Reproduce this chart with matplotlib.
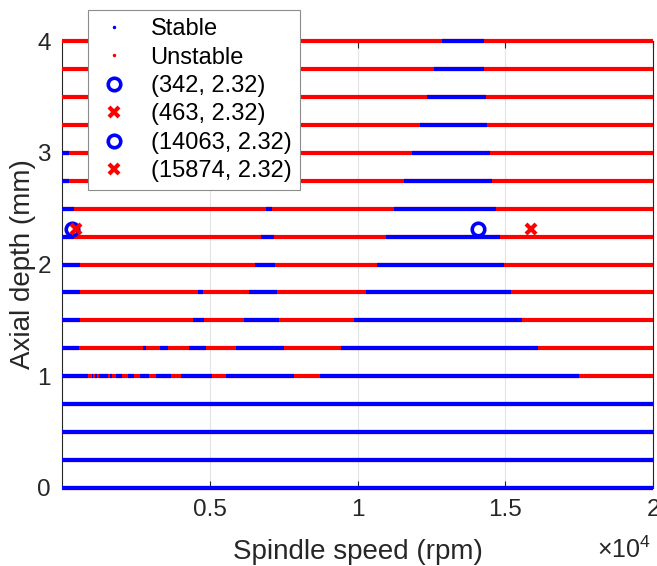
import matplotlib
matplotlib.use("Agg")
import matplotlib.pyplot as plt
from matplotlib.lines import Line2D

plt.rcParams['font.family'] = ['Liberation Sans', 'DejaVu Sans']
plt.rcParams['mathtext.fontset'] = 'custom'
plt.rcParams['mathtext.rm'] = 'Liberation Sans'

# ---- data ----
speed_min, speed_max = 0, 20000
depths = [0.0, 0.25, 0.5, 0.75, 1.0, 1.25, 1.5, 1.75, 2.0, 2.25, 2.5, 2.75, 3.0, 3.25, 3.5, 3.75, 4.0]

# stable spindle-speed intervals (rpm) for each axial depth; the rest is unstable
stable_0_00 = [(0, 20000)]
stable_0_25 = [(0, 20000)]
stable_0_50 = [(0, 20000)]
stable_0_75 = [(0, 20000)]
stable_1_00 = [(0, 880), (1000, 1060), (1120, 1180), (1250, 1540), (1630, 1700), (1830, 2040),
               (2230, 2440), (2630, 2950), (3180, 3700), (4020, 5070), (5550, 7860), (8740, 17510)]
stable_1_25 = [(0, 580), (2730, 2850), (3330, 3590), (4290, 4860), (5890, 7520), (9440, 16100)]
stable_1_50 = [(0, 600), (4450, 4810), (6160, 7360), (9880, 15550)]
stable_1_75 = [(0, 600), (4590, 4760), (6330, 7260), (10290, 15210)]
stable_2_00 = [(0, 600), (6540, 7220), (10650, 14960)]
stable_2_25 = [(0, 410), (6750, 7160), (10950, 14830)]
stable_2_50 = [(0, 410), (6900, 7110), (11240, 14680)]
stable_2_75 = [(0, 220), (11560, 14550)]
stable_3_00 = [(0, 220), (11850, 14480)]
stable_3_25 = [(12100, 14390)]
stable_3_50 = [(12340, 14350)]
stable_3_75 = [(12590, 14290)]
stable_4_00 = [(12850, 14290)]

stable_sets = [stable_0_00, stable_0_25, stable_0_50, stable_0_75, stable_1_00, stable_1_25,
               stable_1_50, stable_1_75, stable_2_00, stable_2_25, stable_2_50, stable_2_75,
               stable_3_00, stable_3_25, stable_3_50, stable_3_75, stable_4_00]

points_x = [342, 463, 14063, 15874]
points_y = [2.32, 2.32, 2.32, 2.32]
point_labels = ['(342, 2.32)', '(463, 2.32)', '(14063, 2.32)', '(15874, 2.32)']
point_stable = [True, False, True, False]

xtick_vals = [5000, 10000, 15000, 20000]
xtick_labels = ['0.5', '1', '1.5', '2']
ytick_vals = [0, 1, 2, 3, 4]

# ---- figure ----
fig = plt.figure(figsize=(6.57, 5.66), dpi=100)
ax = fig.add_axes([62/657, 1-488/566, (653-62)/657, (488-41)/566])

BLUE = '#0000ff'
RED = '#ff0000'
LW = 3.0

for d, stab in zip(depths, stable_sets):
    ax.hlines(d, speed_min, speed_max, colors=RED, lw=LW, clip_on=False, zorder=3,
              capstyle='butt')
    for (a, b) in stab:
        ax.hlines(d, a, b, colors=BLUE, lw=LW, clip_on=False, zorder=4, capstyle='butt')

for x, y, st in zip(points_x, points_y, point_stable):
    if st:
        ax.plot(x, y, 'o', mfc='none', mec=BLUE, mew=2.6, ms=9, zorder=6, clip_on=False)
    else:
        ax.plot(x, y, 'x', color=RED, mew=3.0, ms=6.5, zorder=6, clip_on=False)

ax.set_xlim(speed_min, speed_max)
ax.set_ylim(0, 4)
ax.set_xticks(xtick_vals)
ax.set_xticklabels(xtick_labels)
ax.set_yticks(ytick_vals)
ax.tick_params(direction='in', length=5, width=0.8, top=True, right=True,
               labelsize=17.5, colors='#262626', pad=8)
ax.grid(True, color='#e3e3e3', lw=0.8, zorder=0)
ax.set_axisbelow(True)
for s in ax.spines.values():
    s.set_color('#262626')
    s.set_linewidth(0.8)

ax.set_xlabel('Spindle speed (rpm)', fontsize=20, color='#262626', labelpad=13)
ax.set_ylabel('Axial depth (mm)', fontsize=20, color='#262626', labelpad=1)
fig.text(651/657, 1-550/566, r'$\times10^{4}$', fontsize=18, color='#262626',
         ha='right', va='center')

handles = [Line2D([], [], ls='none', marker='.', color=BLUE, ms=3),
           Line2D([], [], ls='none', marker='.', color=RED, ms=3)]
for x, st in zip(points_x, point_stable):
    if st:
        handles.append(Line2D([], [], ls='none', marker='o', mfc='none', mec=BLUE, mew=2.6, ms=9))
    else:
        handles.append(Line2D([], [], ls='none', marker='x', color=RED, mew=3.0, ms=6.5))
labels = ['Stable', 'Unstable'] + point_labels

leg = ax.legend(handles, labels, loc='upper left', bbox_to_anchor=(88/657, 1-10/566),
                bbox_transform=fig.transFigure, fontsize=17, frameon=True, fancybox=False,
                framealpha=1, edgecolor='#8c8c8c', borderpad=0.35, labelspacing=0.27,
                handlelength=1.5, handletextpad=0.8, borderaxespad=0)
leg.get_frame().set_linewidth(0.8)
leg.set_zorder(10)

fig.savefig('out.png', dpi=100)
